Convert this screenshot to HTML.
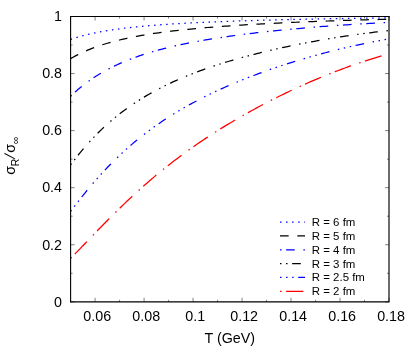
<!DOCTYPE html>
<html><head><meta charset="utf-8"><title>plot</title>
<style>
html,body{margin:0;padding:0;background:#fff;}
svg{display:block;}
text{font-family:"Liberation Sans",sans-serif;fill:#000;}
</style></head><body>
<svg width="415" height="348" viewBox="0 0 415 348" style="will-change:transform">
<rect x="0" y="0" width="415" height="348" fill="#fff"/>
<polyline points="70.60,39.39 73.05,38.57 75.50,37.80 77.95,37.06 80.40,36.37 82.85,35.71 85.30,35.08 87.74,34.48 90.19,33.91 92.64,33.37 95.09,32.86 97.54,32.37 99.99,31.90 102.44,31.45 104.89,31.02 107.34,30.61 109.79,30.22 112.24,29.84 114.69,29.48 117.14,29.14 119.58,28.81 122.03,28.49 124.48,28.18 126.93,27.89 129.38,27.61 131.83,27.33 134.28,27.07 136.73,26.82 139.18,26.58 141.63,26.34 144.08,26.11 146.53,25.89 148.98,25.68 151.42,25.48 153.87,25.28 156.32,25.09 158.77,24.90 161.22,24.72 163.67,24.55 166.12,24.38 168.57,24.21 171.02,24.06 173.47,23.90 175.92,23.75 178.37,23.60 180.82,23.46 183.26,23.32 185.71,23.19 188.16,23.06 190.61,22.93 193.06,22.81 195.51,22.69 197.96,22.57 200.41,22.45 202.86,22.34 205.31,22.23 207.76,22.12 210.21,22.02 212.66,21.92 215.10,21.82 217.55,21.72 220.00,21.62 222.45,21.53 224.90,21.44 227.35,21.35 229.80,21.26 232.25,21.17 234.70,21.09 237.15,21.01 239.60,20.93 242.05,20.85 244.50,20.77 246.94,20.69 249.39,20.62 251.84,20.54 254.29,20.47 256.74,20.40 259.19,20.33 261.64,20.26 264.09,20.19 266.54,20.12 268.99,20.06 271.44,20.00 273.89,19.93 276.34,19.87 278.78,19.81 281.23,19.75 283.68,19.69 286.13,19.63 288.58,19.57 291.03,19.52 293.48,19.46 295.93,19.41 298.38,19.35 300.83,19.30 303.28,19.25 305.73,19.20 308.18,19.15 310.62,19.10 313.07,19.05 315.52,19.00 317.97,18.95 320.42,18.91 322.87,18.86 325.32,18.82 327.77,18.77 330.22,18.73 332.67,18.69 335.12,18.65 337.57,18.60 340.02,18.56 342.46,18.52 344.91,18.49 347.36,18.45 349.81,18.41 352.26,18.37 354.71,18.34 357.16,18.30 359.61,18.26 362.06,18.23 364.51,18.20 366.96,18.16 369.41,18.13 371.86,18.10 374.30,18.07 376.75,18.03 379.20,18.00 381.65,17.97 384.10,17.95 386.55,17.92 389.00,17.89" fill="none" stroke="#0000ff" stroke-width="1.25" stroke-dasharray="1.493,4.569" stroke-dashoffset="0"/>
<polyline points="70.60,58.66 73.05,57.26 75.50,55.92 77.95,54.66 80.40,53.45 82.85,52.30 85.30,51.20 87.74,50.15 90.19,49.15 92.64,48.20 95.09,47.28 97.54,46.41 99.99,45.57 102.44,44.77 104.89,44.00 107.34,43.26 109.79,42.56 112.24,41.88 114.69,41.23 117.14,40.60 119.58,39.99 122.03,39.41 124.48,38.85 126.93,38.32 129.38,37.80 131.83,37.29 134.28,36.81 136.73,36.34 139.18,35.89 141.63,35.46 144.08,35.03 146.53,34.63 148.98,34.23 151.42,33.85 153.87,33.48 156.32,33.12 158.77,32.77 161.22,32.43 163.67,32.11 166.12,31.79 168.57,31.48 171.02,31.18 173.47,30.89 175.92,30.60 178.37,30.33 180.82,30.06 183.26,29.79 185.71,29.54 188.16,29.29 190.61,29.05 193.06,28.81 195.51,28.58 197.96,28.35 200.41,28.13 202.86,27.92 205.31,27.71 207.76,27.50 210.21,27.30 212.66,27.11 215.10,26.92 217.55,26.73 220.00,26.54 222.45,26.36 224.90,26.19 227.35,26.01 229.80,25.84 232.25,25.68 234.70,25.51 237.15,25.35 239.60,25.20 242.05,25.04 244.50,24.89 246.94,24.74 249.39,24.60 251.84,24.45 254.29,24.31 256.74,24.18 259.19,24.04 261.64,23.91 264.09,23.77 266.54,23.64 268.99,23.52 271.44,23.39 273.89,23.27 276.34,23.15 278.78,23.03 281.23,22.91 283.68,22.80 286.13,22.68 288.58,22.57 291.03,22.46 293.48,22.35 295.93,22.25 298.38,22.14 300.83,22.04 303.28,21.94 305.73,21.84 308.18,21.74 310.62,21.64 313.07,21.54 315.52,21.45 317.97,21.36 320.42,21.27 322.87,21.18 325.32,21.09 327.77,21.00 330.22,20.92 332.67,20.83 335.12,20.75 337.57,20.67 340.02,20.59 342.46,20.51 344.91,20.44 347.36,20.36 349.81,20.28 352.26,20.21 354.71,20.14 357.16,20.07 359.61,20.00 362.06,19.93 364.51,19.86 366.96,19.80 369.41,19.73 371.86,19.67 374.30,19.61 376.75,19.55 379.20,19.49 381.65,19.43 384.10,19.37 386.55,19.31 389.00,19.26" fill="none" stroke="#000000" stroke-width="1.25" stroke-dasharray="8.661,8.661" stroke-dashoffset="0"/>
<polyline points="70.60,96.23 73.05,93.90 75.50,91.68 77.95,89.54 80.40,87.50 82.85,85.53 85.30,83.65 87.74,81.84 90.19,80.10 92.64,78.42 95.09,76.82 97.54,75.27 99.99,73.78 102.44,72.35 104.89,70.96 107.34,69.63 109.79,68.35 112.24,67.11 114.69,65.92 117.14,64.76 119.58,63.65 122.03,62.57 124.48,61.53 126.93,60.52 129.38,59.55 131.83,58.61 134.28,57.70 136.73,56.81 139.18,55.96 141.63,55.13 144.08,54.32 146.53,53.54 148.98,52.78 151.42,52.05 153.87,51.33 156.32,50.64 158.77,49.96 161.22,49.30 163.67,48.66 166.12,48.04 168.57,47.44 171.02,46.85 173.47,46.27 175.92,45.71 178.37,45.17 180.82,44.64 183.26,44.12 185.71,43.61 188.16,43.11 190.61,42.63 193.06,42.16 195.51,41.70 197.96,41.25 200.41,40.81 202.86,40.37 205.31,39.95 207.76,39.54 210.21,39.13 212.66,38.74 215.10,38.35 217.55,37.97 220.00,37.59 222.45,37.23 224.90,36.87 227.35,36.52 229.80,36.17 232.25,35.83 234.70,35.50 237.15,35.17 239.60,34.85 242.05,34.53 244.50,34.22 246.94,33.92 249.39,33.62 251.84,33.32 254.29,33.03 256.74,32.74 259.19,32.46 261.64,32.19 264.09,31.91 266.54,31.65 268.99,31.38 271.44,31.12 273.89,30.87 276.34,30.62 278.78,30.37 281.23,30.12 283.68,29.88 286.13,29.65 288.58,29.41 291.03,29.18 293.48,28.96 295.93,28.73 298.38,28.51 300.83,28.30 303.28,28.08 305.73,27.88 308.18,27.67 310.62,27.46 313.07,27.26 315.52,27.07 317.97,26.87 320.42,26.68 322.87,26.49 325.32,26.31 327.77,26.12 330.22,25.94 332.67,25.77 335.12,25.59 337.57,25.42 340.02,25.25 342.46,25.09 344.91,24.93 347.36,24.77 349.81,24.61 352.26,24.45 354.71,24.30 357.16,24.15 359.61,24.00 362.06,23.86 364.51,23.72 366.96,23.58 369.41,23.44 371.86,23.30 374.30,23.17 376.75,23.04 379.20,22.92 381.65,22.79 384.10,22.67 386.55,22.55 389.00,22.43" fill="none" stroke="#0000ff" stroke-width="1.25" stroke-dasharray="1.493,4.579,8.661,8.661" stroke-dashoffset="0"/>
<polyline points="70.60,164.87 73.05,161.60 75.50,158.42 77.95,155.32 80.40,152.31 82.85,149.38 85.30,146.53 87.74,143.76 90.19,141.07 92.64,138.45 95.09,135.90 97.54,133.42 99.99,131.01 102.44,128.67 104.89,126.39 107.34,124.17 109.79,122.01 112.24,119.91 114.69,117.87 117.14,115.88 119.58,113.94 122.03,112.05 124.48,110.22 126.93,108.43 129.38,106.69 131.83,104.99 134.28,103.34 136.73,101.72 139.18,100.15 141.63,98.62 144.08,97.12 146.53,95.66 148.98,94.24 151.42,92.85 153.87,91.49 156.32,90.17 158.77,88.87 161.22,87.61 163.67,86.37 166.12,85.16 168.57,83.98 171.02,82.82 173.47,81.69 175.92,80.58 178.37,79.50 180.82,78.44 183.26,77.40 185.71,76.38 188.16,75.39 190.61,74.41 193.06,73.45 195.51,72.51 197.96,71.59 200.41,70.69 202.86,69.80 205.31,68.93 207.76,68.07 210.21,67.23 212.66,66.41 215.10,65.60 217.55,64.80 220.00,64.02 222.45,63.25 224.90,62.49 227.35,61.75 229.80,61.01 232.25,60.29 234.70,59.58 237.15,58.88 239.60,58.20 242.05,57.52 244.50,56.85 246.94,56.19 249.39,55.55 251.84,54.91 254.29,54.28 256.74,53.66 259.19,53.05 261.64,52.44 264.09,51.85 266.54,51.26 268.99,50.68 271.44,50.11 273.89,49.55 276.34,49.00 278.78,48.45 281.23,47.91 283.68,47.38 286.13,46.85 288.58,46.34 291.03,45.83 293.48,45.32 295.93,44.82 298.38,44.33 300.83,43.85 303.28,43.37 305.73,42.90 308.18,42.44 310.62,41.98 313.07,41.53 315.52,41.09 317.97,40.65 320.42,40.22 322.87,39.79 325.32,39.37 327.77,38.96 330.22,38.55 332.67,38.15 335.12,37.75 337.57,37.36 340.02,36.98 342.46,36.60 344.91,36.23 347.36,35.86 349.81,35.50 352.26,35.15 354.71,34.80 357.16,34.46 359.61,34.12 362.06,33.79 364.51,33.46 366.96,33.14 369.41,32.82 371.86,32.51 374.30,32.21 376.75,31.91 379.20,31.62 381.65,31.33 384.10,31.04 386.55,30.77 389.00,30.49" fill="none" stroke="#000000" stroke-width="1.25" stroke-dasharray="1.493,4.579,1.493,4.579,8.661,8.661" stroke-dashoffset="0"/>
<polyline points="70.60,211.42 73.05,208.16 75.50,204.94 77.95,201.76 80.40,198.63 82.85,195.55 85.30,192.52 87.74,189.54 90.19,186.61 92.64,183.74 95.09,180.91 97.54,178.13 99.99,175.41 102.44,172.73 104.89,170.11 107.34,167.53 109.79,165.01 112.24,162.53 114.69,160.10 117.14,157.72 119.58,155.38 122.03,153.10 124.48,150.85 126.93,148.65 129.38,146.50 131.83,144.38 134.28,142.31 136.73,140.28 139.18,138.28 141.63,136.33 144.08,134.42 146.53,132.54 148.98,130.69 151.42,128.89 153.87,127.11 156.32,125.37 158.77,123.67 161.22,121.99 163.67,120.35 166.12,118.74 168.57,117.15 171.02,115.59 173.47,114.07 175.92,112.57 178.37,111.09 180.82,109.64 183.26,108.22 185.71,106.82 188.16,105.44 190.61,104.09 193.06,102.76 195.51,101.45 197.96,100.16 200.41,98.89 202.86,97.65 205.31,96.42 207.76,95.21 210.21,94.02 212.66,92.85 215.10,91.69 217.55,90.55 220.00,89.43 222.45,88.32 224.90,87.23 227.35,86.16 229.80,85.10 232.25,84.05 234.70,83.02 237.15,82.00 239.60,81.00 242.05,80.01 244.50,79.03 246.94,78.06 249.39,77.11 251.84,76.17 254.29,75.24 256.74,74.32 259.19,73.42 261.64,72.52 264.09,71.64 266.54,70.76 268.99,69.90 271.44,69.05 273.89,68.21 276.34,67.38 278.78,66.55 281.23,65.74 283.68,64.94 286.13,64.15 288.58,63.37 291.03,62.59 293.48,61.83 295.93,61.07 298.38,60.33 300.83,59.59 303.28,58.87 305.73,58.15 308.18,57.44 310.62,56.74 313.07,56.05 315.52,55.37 317.97,54.70 320.42,54.04 322.87,53.38 325.32,52.74 327.77,52.10 330.22,51.47 332.67,50.85 335.12,50.24 337.57,49.64 340.02,49.04 342.46,48.46 344.91,47.88 347.36,47.32 349.81,46.76 352.26,46.21 354.71,45.66 357.16,45.13 359.61,44.60 362.06,44.09 364.51,43.58 366.96,43.08 369.41,42.58 371.86,42.10 374.30,41.62 376.75,41.15 379.20,40.69 381.65,40.24 384.10,39.80 386.55,39.36 389.00,38.93" fill="none" stroke="#0000ff" stroke-width="1.25" stroke-dasharray="1.493,4.579,1.493,4.579,1.493,4.579,8.661,8.661" stroke-dashoffset="0"/>
<polyline points="70.60,258.34 73.05,255.86 75.50,253.36 77.95,250.85 80.40,248.32 82.85,245.79 85.30,243.25 87.74,240.70 90.19,238.16 92.64,235.62 95.09,233.08 97.54,230.55 99.99,228.02 102.44,225.51 104.89,223.01 107.34,220.53 109.79,218.06 112.24,215.60 114.69,213.17 117.14,210.75 119.58,208.35 122.03,205.98 124.48,203.62 126.93,201.29 129.38,198.97 131.83,196.68 134.28,194.42 136.73,192.17 139.18,189.95 141.63,187.76 144.08,185.59 146.53,183.44 148.98,181.31 151.42,179.21 153.87,177.14 156.32,175.08 158.77,173.05 161.22,171.04 163.67,169.06 166.12,167.10 168.57,165.16 171.02,163.25 173.47,161.35 175.92,159.48 178.37,157.63 180.82,155.80 183.26,153.99 185.71,152.21 188.16,150.44 190.61,148.69 193.06,146.96 195.51,145.25 197.96,143.56 200.41,141.89 202.86,140.24 205.31,138.61 207.76,136.99 210.21,135.39 212.66,133.80 215.10,132.24 217.55,130.69 220.00,129.15 222.45,127.63 224.90,126.13 227.35,124.64 229.80,123.17 232.25,121.71 234.70,120.26 237.15,118.83 239.60,117.41 242.05,116.01 244.50,114.62 246.94,113.24 249.39,111.88 251.84,110.53 254.29,109.19 256.74,107.86 259.19,106.55 261.64,105.24 264.09,103.96 266.54,102.68 268.99,101.41 271.44,100.16 273.89,98.92 276.34,97.69 278.78,96.47 281.23,95.26 283.68,94.07 286.13,92.88 288.58,91.71 291.03,90.55 293.48,89.40 295.93,88.26 298.38,87.14 300.83,86.02 303.28,84.92 305.73,83.83 308.18,82.75 310.62,81.68 313.07,80.63 315.52,79.58 317.97,78.55 320.42,77.53 322.87,76.52 325.32,75.52 327.77,74.54 330.22,73.56 332.67,72.60 335.12,71.65 337.57,70.71 340.02,69.79 342.46,68.87 344.91,67.97 347.36,67.08 349.81,66.20 352.26,65.34 354.71,64.48 357.16,63.64 359.61,62.81 362.06,62.00 364.51,61.19 366.96,60.40 369.41,59.62 371.86,58.85 374.30,58.09 376.75,57.34 379.20,56.61 381.65,55.89 384.10,55.17 386.55,54.47 389.00,53.79" fill="none" stroke="#ff0000" stroke-width="1.25" stroke-dasharray="1.493,4.579,17.322,8.661" stroke-dashoffset="0"/>
<path d="M70.60,301.80h4.0M389.00,301.80h-4.0M70.60,273.27h2.0M389.00,273.27h-2.0M70.60,244.74h4.0M389.00,244.74h-4.0M70.60,216.21h2.0M389.00,216.21h-2.0M70.60,187.68h4.0M389.00,187.68h-4.0M70.60,159.15h2.0M389.00,159.15h-2.0M70.60,130.62h4.0M389.00,130.62h-4.0M70.60,102.09h2.0M389.00,102.09h-2.0M70.60,73.56h4.0M389.00,73.56h-4.0M70.60,45.03h2.0M389.00,45.03h-2.0M70.60,16.50h4.0M389.00,16.50h-4.0M70.60,301.80v-2.0M70.60,16.50v2.0M95.09,301.80v-4.0M95.09,16.50v4.0M119.58,301.80v-2.0M119.58,16.50v2.0M144.08,301.80v-4.0M144.08,16.50v4.0M168.57,301.80v-2.0M168.57,16.50v2.0M193.06,301.80v-4.0M193.06,16.50v4.0M217.55,301.80v-2.0M217.55,16.50v2.0M242.05,301.80v-4.0M242.05,16.50v4.0M266.54,301.80v-2.0M266.54,16.50v2.0M291.03,301.80v-4.0M291.03,16.50v4.0M315.52,301.80v-2.0M315.52,16.50v2.0M340.02,301.80v-4.0M340.02,16.50v4.0M364.51,301.80v-2.0M364.51,16.50v2.0M389.00,301.80v-4.0M389.00,16.50v4.0" stroke="#000" stroke-width="0.5" fill="none"/>
<path d="M70.6,301.8V16.5H389.0" stroke="#000" stroke-width="1.1" fill="none" stroke-linecap="square"/>
<path d="M70.6,301.8H389.0V16.5" stroke="#000" stroke-width="1.15" fill="none" stroke-linecap="square"/>
<text x="62.0" y="306.60" font-size="14.3" text-anchor="end">0</text>
<text x="62.0" y="249.54" font-size="14.3" text-anchor="end">0.2</text>
<text x="62.0" y="192.48" font-size="14.3" text-anchor="end">0.4</text>
<text x="62.0" y="135.42" font-size="14.3" text-anchor="end">0.6</text>
<text x="62.0" y="78.36" font-size="14.3" text-anchor="end">0.8</text>
<text x="62.0" y="21.30" font-size="14.3" text-anchor="end">1</text>
<text x="97.19" y="321.2" font-size="14.3" text-anchor="middle">0.06</text>
<text x="146.18" y="321.2" font-size="14.3" text-anchor="middle">0.08</text>
<text x="195.16" y="321.2" font-size="14.3" text-anchor="middle">0.1</text>
<text x="244.15" y="321.2" font-size="14.3" text-anchor="middle">0.12</text>
<text x="293.13" y="321.2" font-size="14.3" text-anchor="middle">0.14</text>
<text x="342.12" y="321.2" font-size="14.3" text-anchor="middle">0.16</text>
<text x="391.10" y="321.2" font-size="14.3" text-anchor="middle">0.18</text>
<text x="229.8" y="342.6" font-size="14.3" text-anchor="middle">T (GeV)</text>
<g transform="translate(14.6,174.3) rotate(-90)">
<text font-size="14.3" x="-0.5" y="0">σ</text>
<text font-size="10.4" x="8.0" y="4.0">R</text>
<text font-size="14.6" transform="translate(14.9,0.5) skewX(-14)">/</text>
<text font-size="14.3" x="21.6" y="0">σ</text>
<text font-size="10.4" x="30.3" y="4.15">∞</text>
</g>
<path d="M280.0,222.15H305.0" stroke="#0000ff" stroke-width="1.25" stroke-dasharray="1.493,4.569" stroke-dashoffset="0" fill="none"/>
<text x="311.8" y="226.15" font-size="11.45">R = 6 fm</text>
<path d="M280.0,235.98H305.0" stroke="#000000" stroke-width="1.25" stroke-dasharray="8.661,8.661" stroke-dashoffset="0" fill="none"/>
<text x="311.8" y="239.98" font-size="11.45">R = 5 fm</text>
<path d="M280.0,249.81H305.0" stroke="#0000ff" stroke-width="1.25" stroke-dasharray="1.493,4.579,8.661,8.661" stroke-dashoffset="0" fill="none"/>
<text x="311.8" y="253.81" font-size="11.45">R = 4 fm</text>
<path d="M280.0,263.64H305.0" stroke="#000000" stroke-width="1.25" stroke-dasharray="1.493,4.579,1.493,4.579,8.661,8.661" stroke-dashoffset="0" fill="none"/>
<text x="311.8" y="267.64" font-size="11.45">R = 3 fm</text>
<path d="M280.0,277.47H305.0" stroke="#0000ff" stroke-width="1.25" stroke-dasharray="1.493,4.579,1.493,4.579,1.493,4.579,8.661,8.661" stroke-dashoffset="0" fill="none"/>
<text x="311.8" y="281.47" font-size="11.45">R = 2.5 fm</text>
<path d="M280.0,291.30H305.0" stroke="#ff0000" stroke-width="1.25" stroke-dasharray="1.493,4.579,17.322,8.661" stroke-dashoffset="0" fill="none"/>
<text x="311.8" y="295.30" font-size="11.45">R = 2 fm</text>
</svg></body></html>
